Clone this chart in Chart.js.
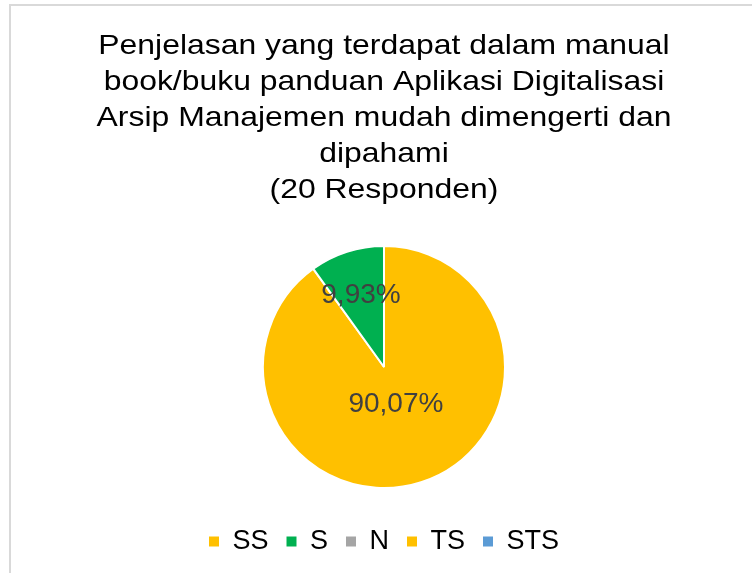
<!DOCTYPE html>
<html lang="id">
<head>
<meta charset="utf-8">
<title>Penjelasan manual book</title>
<script src="https://cdn.jsdelivr.net/npm/chart.js@4.4.1/dist/chart.umd.min.js"></script>
<style>
    html, body {
        margin: 0;
        padding: 0;
        background: #fff;
        overflow: hidden;
    }
    #frame {
        position: absolute;
        left: 9px;
        top: 4px;
        width: 746px;
        height: 620px;
        border: 2px solid #d9d9d9;
        background: #fff;
    }
    #chart-wrap {
        position: absolute;
        left: 0;
        top: 0;
        width: 746px;
        height: 567px;
    }
</style>
</head>
<body>
<div id="frame">
    <div id="chart-wrap"><canvas id="pieChart"></canvas></div>
</div>
<script>
    // Survey answers (20 respondents)
    const categories = ['SS', 'S', 'N', 'TS', 'STS'];
    const percentages = [90.07, 9.93, 0, 0, 0];
    const sliceColors = ['#FFC000', '#00B050', '#A5A5A5', '#FFC000', '#5B9BD5'];

    const titleLines = [
        'Penjelasan yang terdapat dalam manual',
        'book/buku panduan Aplikasi Digitalisasi',
        'Arsip Manajemen mudah dimengerti dan',
        'dipahami',
        '(20 Responden)'
    ];

    const FONT = '"Liberation Sans", Arial, Helvetica, sans-serif';

    /**
     * Title drawn by hand: the text is set a little wider than the font
     */
    const stretchedTitle = {
        id: 'stretchedTitle',
        afterDraw(chart) {
            const ctx = chart.ctx;
            const cx = chart.width / 2;
            ctx.save();
            ctx.font = '28px ' + FONT;
            ctx.fillStyle = '#000';
            ctx.textAlign = 'center';
            ctx.textBaseline = 'alphabetic';
            titleLines.forEach((line, i) => {
                ctx.save();
                ctx.translate(cx, 48 + i * 36);
                ctx.scale(1.14, 1);
                ctx.fillText(line, 0, 0);
                ctx.restore();
            });
            ctx.restore();
        }
    };

    /**
     * Percentage labels inside the slices
     */
    const sliceLabels = {
        id: 'sliceLabels',
        afterDatasetsDraw(chart) {
            const ctx = chart.ctx;
            const meta = chart.getDatasetMeta(0);
            const values = chart.data.datasets[0].data;
            ctx.save();
            ctx.font = '28px ' + FONT;
            ctx.fillStyle = '#404040';
            ctx.textAlign = 'center';
            ctx.textBaseline = 'middle';
            meta.data.forEach((arc, i) => {
                const v = values[i];
                if (!v) return;
                const p = arc.getProps(['x', 'y', 'startAngle', 'endAngle', 'outerRadius'], true);
                const mid = (p.startAngle + p.endAngle) / 2;
                const frac = v > 50 ? 0.32 : 0.62;
                const r = p.outerRadius * frac;
                const text = v.toFixed(2).replace('.', ',') + '%';
                ctx.fillText(text, p.x + Math.cos(mid) * r, p.y + Math.sin(mid) * r);
            });
            ctx.restore();
        }
    };

    const ctx = document.getElementById('pieChart').getContext('2d');
    const defaultLabels = Chart.overrides.pie.plugins.legend.labels.generateLabels;

    new Chart(ctx, {
        type: 'pie',
        data: {
            labels: categories,
            datasets: [{
                data: percentages,
                backgroundColor: sliceColors,
                borderColor: '#ffffff',
                borderWidth: 2,
                radius: 121
            }]
        },
        options: {
            responsive: true,
            maintainAspectRatio: false,
            animation: false,
            layout: {
                padding: { top: 218, bottom: 8, left: 0, right: 0 }
            },
            plugins: {
                title: { display: false },
                tooltip: { enabled: false },
                legend: {
                    display: true,
                    position: 'bottom',
                    labels: {
                        boxWidth: 10,
                        boxHeight: 10,
                        padding: 18,
                        color: '#000',
                        font: { family: FONT, size: 27 },
                        generateLabels(chart) {
                            return defaultLabels(chart).map(item => {
                                item.lineWidth = 0;
                                item.strokeStyle = item.fillStyle;
                                return item;
                            });
                        }
                    }
                }
            }
        },
        plugins: [sliceLabels, stretchedTitle]
    });
</script>
</body>
</html>
